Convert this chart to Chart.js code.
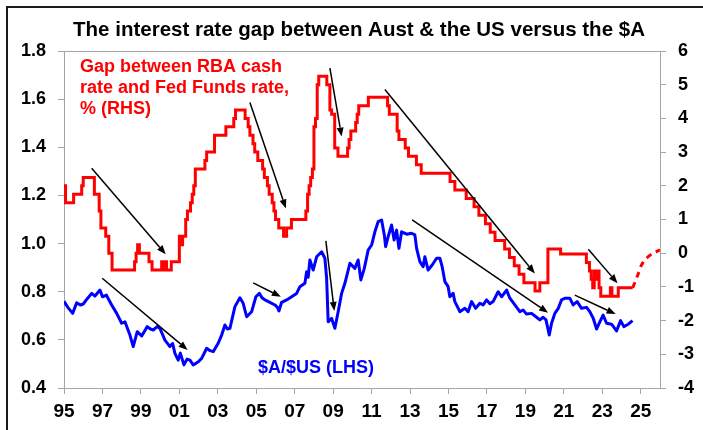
<!DOCTYPE html>
<html>
<head>
<meta charset="utf-8">
<script src="https://cdn.jsdelivr.net/npm/chart.js@4.4.1/dist/chart.umd.min.js"></script>
<style>
    body { margin: 0; background: #fff; }
    #wrap { width: 703px; height: 430px; position: relative; }
</style>
</head>
<body>
<div id="wrap"><canvas id="gapChart" width="703" height="430"></canvas></div>
<script>
/* ======================
   DATA
====================== */
// x axis ticks (years) and their labels
const tickYears = [1995, 1997, 1999, 2001, 2003, 2005, 2007, 2009, 2011, 2013, 2015, 2017, 2019, 2021, 2023, 2025];
const xTickLabels = ["95", "97", "99", "01", "03", "05", "07", "09", "11", "13", "15", "17", "19", "21", "23", "25"];
const leftTicks = [0.4, 0.6, 0.8, 1.0, 1.2, 1.4, 1.6, 1.8];
const rightTicks = [-4, -3, -2, -1, 0, 1, 2, 3, 4, 5, 6];

// RBA cash rate minus Fed funds rate, % (RHS) - value holds from each date until the next
const gapDates = [
    1995.0, 1995.08, 1995.5, 1995.92,
    1996.0, 1996.58, 1996.83, 1996.92,
    1997.17, 1997.33, 1997.5,
    1998.67, 1998.75, 1998.83, 1998.92,
    1999.42, 1999.58,
    2000.08, 2000.17, 2000.25, 2000.33, 2000.58,
    2001.0, 2001.08, 2001.17, 2001.33, 2001.42, 2001.58, 2001.67, 2001.75, 2001.83,
    2002.33, 2002.42, 2002.83,
    2003.42, 2003.83, 2003.92,
    2004.42, 2004.58, 2004.67, 2004.83, 2004.92,
    2005.08, 2005.33, 2005.42, 2005.58, 2005.67, 2005.83, 2005.92,
    2006.0, 2006.17, 2006.42, 2006.58, 2006.83,
    2007.58, 2007.67, 2007.75, 2007.83, 2007.92,
    2008.0, 2008.08, 2008.17, 2008.25, 2008.67, 2008.83, 2008.92,
    2009.08, 2009.25, 2009.75, 2009.83, 2009.92,
    2010.17, 2010.25, 2010.33, 2010.83,
    2011.83, 2011.92,
    2012.33, 2012.42, 2012.75, 2012.92,
    2013.33, 2013.58,
    2015.08, 2015.33, 2015.92,
    2016.33, 2016.58, 2016.92,
    2017.17, 2017.42, 2017.92,
    2018.17, 2018.42, 2018.67, 2018.92,
    2019.5, 2019.75,
    2020.17, 2020.83,
    2022.17, 2022.33, 2022.42, 2022.5, 2022.58, 2022.67, 2022.75, 2022.83, 2022.92,
    2023.42, 2023.5, 2023.83,
    2024.58
];
const gapValues = [
    2.0, 1.5, 1.75, 2.0,
    2.25, 1.75, 1.25, 0.75,
    0.5, 0.0, -0.5,
    -0.25, 0.0, 0.25, 0.0,
    -0.25, -0.5,
    -0.25, -0.5, -0.25, -0.5, -0.25,
    0.5, 0.25, 0.5, 1.0, 1.25, 1.5, 1.75, 2.0, 2.5,
    2.75, 3.0, 3.5,
    3.75, 4.0, 4.25,
    4.0, 3.75, 3.5, 3.25, 3.0,
    2.75, 2.5, 2.25, 2.0, 1.75, 1.5, 1.25,
    1.0, 0.75, 0.5, 0.75, 1.0,
    1.25, 1.75, 2.0, 2.25, 2.5,
    3.75, 4.0, 5.0, 5.25, 5.0, 4.25, 4.125,
    3.125, 2.875, 3.125, 3.375, 3.625,
    3.875, 4.125, 4.375, 4.625,
    4.375, 4.125,
    3.625, 3.375, 3.125, 2.875,
    2.625, 2.375,
    2.125, 1.875, 1.625,
    1.375, 1.125, 0.875,
    0.625, 0.375, 0.125,
    -0.125, -0.375, -0.625, -0.875,
    -1.125, -0.875,
    0.125, -0.025,
    -0.275, -0.525, -0.775, -1.025, -0.525, -0.775, -0.525, -1.025, -1.275,
    -1.025, -1.275, -1.025,
    -1.025
];

// projected gap (dashed)
const projDates = [2024.58, 2024.81, 2025.04, 2025.39, 2026.0];
const projValues = [-1.025, -0.7, -0.35, -0.1, 0.1];

// $A/$US (LHS)
const audDates = [
    1995.0, 1995.2, 1995.45, 1995.66, 1995.85,
    1996.0, 1996.2, 1996.44, 1996.61, 1996.87,
    1997.0, 1997.2, 1997.48, 1997.74,
    1998.0, 1998.17, 1998.43, 1998.6, 1998.81,
    1999.04, 1999.33, 1999.5, 1999.64, 1999.85, 1999.99,
    2000.25, 2000.51, 2000.65, 2000.77, 2000.94,
    2001.05, 2001.24, 2001.4, 2001.55, 2001.72, 2001.81,
    2002.0, 2002.16, 2002.42, 2002.6, 2002.76,
    2003.02, 2003.2, 2003.37, 2003.5, 2003.63, 2003.89,
    2004.15, 2004.32, 2004.5, 2004.76, 2004.98,
    2005.16, 2005.3, 2005.45, 2005.71, 2005.97,
    2006.1, 2006.18, 2006.32, 2006.58, 2006.84,
    2007.1, 2007.27, 2007.53, 2007.62, 2007.7, 2007.79, 2007.96,
    2008.14, 2008.4, 2008.57, 2008.66, 2008.74, 2008.92,
    2009.09, 2009.26, 2009.44, 2009.61, 2009.87,
    2010.13, 2010.3, 2010.44, 2010.62, 2010.82,
    2011.0, 2011.17, 2011.34, 2011.52, 2011.66, 2011.73, 2011.86,
    2012.04, 2012.17, 2012.3, 2012.42, 2012.56, 2012.82,
    2013.08, 2013.25, 2013.34, 2013.51, 2013.68, 2013.77, 2013.94,
    2014.15, 2014.38, 2014.55, 2014.67, 2014.81, 2014.98,
    2015.07, 2015.24, 2015.33, 2015.59, 2015.85,
    2016.02, 2016.2, 2016.41, 2016.63, 2016.8, 2016.98,
    2017.15, 2017.32, 2017.58, 2017.76,
    2018.02, 2018.19, 2018.45, 2018.71, 2018.88,
    2019.06, 2019.32, 2019.58, 2019.75, 2019.92,
    2020.07, 2020.24, 2020.36, 2020.53, 2020.71, 2020.88,
    2021.05, 2021.31, 2021.48, 2021.69, 2021.92,
    2022.18, 2022.35, 2022.53, 2022.7, 2022.87,
    2023.04, 2023.22, 2023.48, 2023.74, 2023.95,
    2024.12, 2024.35, 2024.57
];
const audValues = [
    0.760, 0.735, 0.710, 0.754, 0.745,
    0.749, 0.770, 0.793, 0.782, 0.807,
    0.779, 0.786, 0.745, 0.710,
    0.669, 0.675, 0.620, 0.572, 0.634,
    0.616, 0.655, 0.645, 0.641, 0.655, 0.648,
    0.599, 0.572, 0.585, 0.544, 0.516,
    0.545, 0.496, 0.520, 0.516, 0.496, 0.500,
    0.510, 0.523, 0.565, 0.555, 0.551,
    0.586, 0.620, 0.662, 0.645, 0.648, 0.738,
    0.775, 0.752, 0.696, 0.717, 0.779,
    0.793, 0.775, 0.766, 0.756, 0.745,
    0.735, 0.720, 0.756, 0.766, 0.779,
    0.793, 0.821, 0.835, 0.883, 0.860, 0.932, 0.890,
    0.945, 0.966, 0.939, 0.856, 0.675, 0.689,
    0.648, 0.717, 0.793, 0.835, 0.918,
    0.897, 0.932, 0.849, 0.897, 0.973,
    0.994, 1.049, 1.091, 1.098, 1.036, 0.987, 1.029,
    1.077, 1.015, 1.056, 0.980, 1.049, 1.039,
    1.043, 1.036, 0.980, 0.925, 0.904, 0.945, 0.890,
    0.911, 0.939, 0.939, 0.904, 0.842, 0.821,
    0.779, 0.793, 0.759, 0.717, 0.731,
    0.717, 0.759, 0.731, 0.752, 0.745, 0.766,
    0.750, 0.759, 0.800, 0.779,
    0.807, 0.773, 0.745, 0.717, 0.724,
    0.707, 0.710, 0.694, 0.683, 0.694,
    0.683, 0.620, 0.669, 0.710, 0.731, 0.766,
    0.773, 0.773, 0.745, 0.759, 0.731,
    0.735, 0.717, 0.689, 0.645, 0.675,
    0.703, 0.669, 0.665, 0.637, 0.680,
    0.655, 0.665, 0.680
];

// trend arrows: [fromYear, fromValue, toYear, toValue, axis]
const arrows = [
    [1996.44, 2.52, 2000.29, -0.03, "y2"],
    [2004.67, 4.47, 2006.54, 1.33, "y2"],
    [2008.83, 5.49, 2009.44, 3.46, "y2"],
    [2011.69, 4.86, 2019.49, -0.6, "y2"],
    [2022.27, 0.12, 2023.79, -0.89, "y2"],
    [1996.99, 0.856, 2001.43, 0.558, "y"],
    [2004.84, 0.837, 2006.28, 0.779, "y"],
    [2008.62, 1.011, 2009.06, 0.72, "y"],
    [2013.11, 1.098, 2020.18, 0.713, "y"],
    [2021.57, 0.786, 2023.69, 0.707, "y"]
];

const toPoints = (xs, ys) => xs.map((x, i) => ({ x: x, y: ys[i] }));

/* ======================
   DECORATIONS
====================== */
const FONT = '"Liberation Sans", Arial, sans-serif';
const AXIS_GREY = "#a6a6a6";

const decor = {
    id: "decor",
    beforeDraw(chart) {
        const ctx = chart.ctx;
        ctx.save();
        ctx.fillStyle = "#fff";
        ctx.fillRect(0, 0, chart.width, chart.height);
        ctx.restore();
    },
    afterDatasetsDraw(chart) {
        const ctx = chart.ctx;
        const xs = chart.scales.x;
        ctx.save();
        ctx.strokeStyle = "#000";
        ctx.fillStyle = "#000";
        ctx.lineWidth = 1.5;
        arrows.forEach(a => {
            const ys = chart.scales[a[4]];
            const x0 = xs.getPixelForValue(a[0]), y0 = ys.getPixelForValue(a[1]);
            const x1 = xs.getPixelForValue(a[2]), y1 = ys.getPixelForValue(a[3]);
            const ang = Math.atan2(y1 - y0, x1 - x0);
            const head = 9, half = 3.5;
            const bx = x1 - head * Math.cos(ang), by = y1 - head * Math.sin(ang);
            ctx.beginPath();
            ctx.moveTo(x0, y0);
            ctx.lineTo(bx, by);
            ctx.stroke();
            ctx.beginPath();
            ctx.moveTo(x1, y1);
            ctx.lineTo(bx + half * Math.sin(ang), by - half * Math.cos(ang));
            ctx.lineTo(bx - half * Math.sin(ang), by + half * Math.cos(ang));
            ctx.closePath();
            ctx.fill();
        });
        ctx.restore();
    },
    afterDraw(chart) {
        const ctx = chart.ctx;
        const area = chart.chartArea;
        ctx.save();
        // top edge of the plot
        ctx.strokeStyle = AXIS_GREY;
        ctx.lineWidth = 1;
        ctx.beginPath();
        ctx.moveTo(area.left, area.top + 0.5);
        ctx.lineTo(area.right, area.top + 0.5);
        ctx.stroke();
        // frame (left and top)
        ctx.strokeStyle = "#1a1a1a";
        ctx.lineWidth = 2;
        ctx.beginPath();
        ctx.moveTo(7, chart.height);
        ctx.lineTo(7, 7);
        ctx.lineTo(chart.width, 7);
        ctx.stroke();
        // title
        ctx.fillStyle = "#000";
        ctx.font = "bold 20.5px " + FONT;
        ctx.textAlign = "center";
        ctx.textBaseline = "alphabetic";
        ctx.fillText("The interest rate gap between Aust & the US versus the $A", 359, 36);
        // series labels
        ctx.textAlign = "left";
        ctx.font = "bold 18px " + FONT;
        ctx.fillStyle = "#ff0000";
        ctx.fillText("Gap between RBA cash", 80, 72);
        ctx.fillText("rate and Fed Funds rate,", 80, 93);
        ctx.fillText("% (RHS)", 80, 114);
        ctx.fillStyle = "#0000ff";
        ctx.fillText("$A/$US (LHS)", 258, 373);
        ctx.restore();
    }
};

/* ======================
   CHART
====================== */
const chartCanvas = document.getElementById("gapChart");

if (chartCanvas) {
    new Chart(chartCanvas, {
        type: "line",
        data: {
            datasets: [
                {
                    label: "Gap",
                    data: toPoints(gapDates, gapValues),
                    yAxisID: "y2",
                    borderColor: "#ff0000",
                    borderWidth: 3,
                    stepped: true,
                    pointRadius: 0
                },
                {
                    label: "Gap projection",
                    data: toPoints(projDates, projValues),
                    yAxisID: "y2",
                    borderColor: "#ff0000",
                    borderWidth: 3,
                    borderDash: [6, 5],
                    cubicInterpolationMode: "monotone",
                    pointRadius: 0
                },
                {
                    label: "$A/$US",
                    data: toPoints(audDates, audValues),
                    yAxisID: "y",
                    borderColor: "#0000ff",
                    borderWidth: 3,
                    borderJoinStyle: "round",
                    pointRadius: 0
                }
            ]
        },
        options: {
            responsive: false,
            animation: false,
            devicePixelRatio: 1,
            layout: { padding: { top: 51, left: 0, right: 0, bottom: 0 } },
            plugins: {
                legend: { display: false },
                tooltip: { enabled: false },
                title: { display: false }
            },
            scales: {
                x: {
                    type: "linear",
                    min: 1995,
                    max: 2026,
                    afterBuildTicks: s => { s.ticks = tickYears.map(v => ({ value: v })); },
                    afterFit: s => { s.height = 42; },
                    ticks: {
                        autoSkip: false,
                        maxRotation: 0,
                        padding: 6,
                        color: "#000",
                        font: { family: FONT, size: 19, weight: "bold" },
                        callback: v => xTickLabels[tickYears.indexOf(v)]
                    },
                    grid: { drawOnChartArea: false, drawTicks: true, tickLength: 6, color: AXIS_GREY },
                    border: { color: AXIS_GREY, width: 1 }
                },
                y: {
                    position: "left",
                    min: 0.4,
                    max: 1.8,
                    afterBuildTicks: s => { s.ticks = leftTicks.map(v => ({ value: v })); },
                    afterFit: s => { s.width = 64; },
                    ticks: {
                        padding: 12,
                        color: "#000",
                        font: { family: FONT, size: 18, weight: "bold" },
                        callback: v => v.toFixed(1)
                    },
                    grid: { drawOnChartArea: false, drawTicks: true, tickLength: 6, color: AXIS_GREY },
                    border: { color: AXIS_GREY, width: 1 }
                },
                y2: {
                    position: "right",
                    min: -4,
                    max: 6,
                    afterBuildTicks: s => { s.ticks = rightTicks.map(v => ({ value: v })); },
                    afterFit: s => { s.width = 43; },
                    ticks: {
                        padding: 12,
                        color: "#000",
                        font: { family: FONT, size: 18, weight: "bold" },
                        callback: v => String(v)
                    },
                    grid: { drawOnChartArea: false, drawTicks: true, tickLength: 6, color: AXIS_GREY },
                    border: { color: AXIS_GREY, width: 1 }
                }
            }
        },
        plugins: [decor]
    });
}
</script>
</body>
</html>
